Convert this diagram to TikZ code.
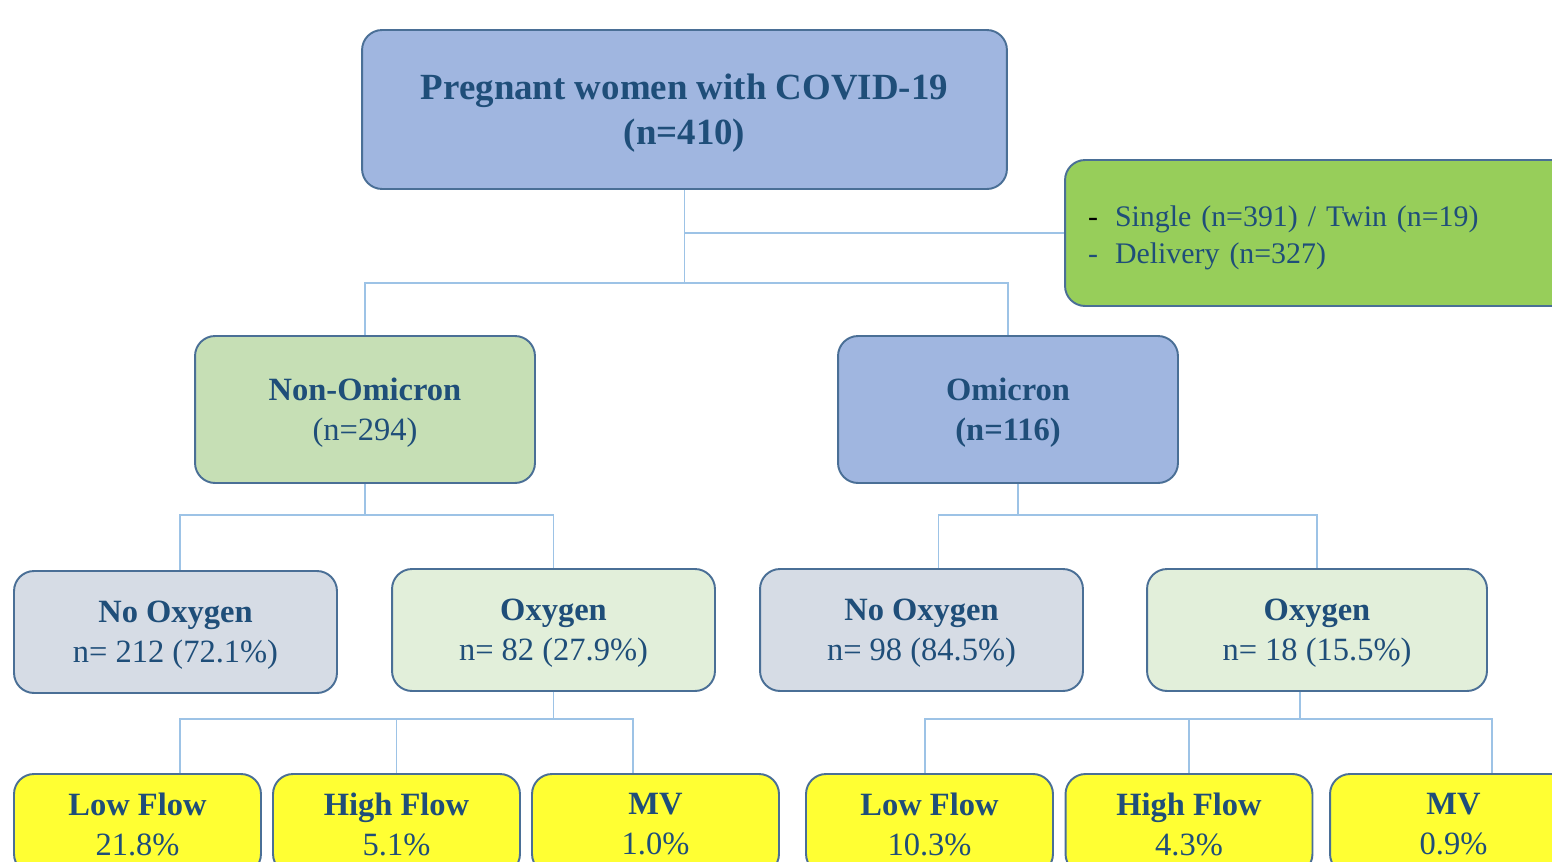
\documentclass[tikz,border=0pt]{standalone}
\usepackage{fontspec}
\setmainfont{Liberation Serif}
\usetikzlibrary{positioning}

\definecolor{boxline}{HTML}{4A6F96}
\definecolor{txtblue}{HTML}{1F4E79}
\definecolor{topfill}{HTML}{A0B6E0}
\definecolor{nonfill}{HTML}{C6DFB5}
\definecolor{nooxfill}{HTML}{D6DCE5}
\definecolor{oxfill}{HTML}{E2EFDA}
\definecolor{flowfill}{HTML}{FFFF33}
\definecolor{infofill}{HTML}{97CE5A}
\definecolor{linkcol}{HTML}{9DC3E6}

\begin{document}
\begin{tikzpicture}[x=0.02cm, y=-0.02cm]
	\tikzstyle{box} = [draw=boxline, line width=1.1pt, rounded corners=0.4cm, text=txtblue, align=center, inner sep=0pt, text depth=-7pt];
	\tikzstyle{group} = [box, minimum width=6.8cm, minimum height=2.94cm, font={\fontsize{18.5}{23}\selectfont}];
	\tikzstyle{oxbox} = [box, minimum width=6.46cm, minimum height=2.44cm, font={\fontsize{18.5}{23}\selectfont}];
	\tikzstyle{flowbox} = [box, fill=flowfill, minimum width=4.94cm, minimum height=2cm, text depth=0pt, font={\fontsize{18.5}{22.5}\selectfont}];
	\tikzstyle{link} = [draw=linkcol, line width=0.85pt];

	\useasboundingbox (0,0) rectangle (1552,862);
	\clip (0,0) rectangle (1552,862);

	% top level
	\node[box, fill=topfill, minimum width=12.9cm, minimum height=3.18cm, font={\fontsize{21}{25.5}\selectfont\bfseries}] (top) at (684.5,109.5) {Pregnant women with COVID-19\\(n=410)};
	\node[box, fill=infofill, minimum width=10.4cm, minimum height=2.92cm, inner xsep=0.46cm, text width=9.48cm, align=left, text depth=19pt, font={\fontsize{17}{21}\selectfont}] (info) at (1325,233)
		{\makebox[0.54cm][l]{\textcolor{black}{-}}Single (n=391) / Twin (n=19)\\\makebox[0.54cm][l]{-}Delivery (n=327)};

	% variants
	\node[group, fill=nonfill] (nonom) at (365,409.5) {\textbf{Non-Omicron}\\(n=294)};
	\node[group, fill=topfill, font={\fontsize{18.5}{23}\selectfont\bfseries}] (omi) at (1008,409.5) {Omicron\\(n=116)};

	% oxygen
	\node[oxbox, fill=nooxfill] (noox1) at (175.5,632) {\textbf{No Oxygen}\\n= 212 (72.1\%)};
	\node[oxbox, fill=oxfill] (ox1) at (553.5,630) {\textbf{Oxygen}\\n= 82 (27.9\%)};
	\node[oxbox, fill=nooxfill] (noox2) at (921.5,630) {\textbf{No Oxygen}\\n= 98 (84.5\%)};
	\node[oxbox, fill=oxfill, minimum width=6.8cm] (ox2) at (1317,630) {\textbf{Oxygen}\\n= 18 (15.5\%)};

	% support
	\node[flowbox] (low1) at (137.5,824) {\textbf{Low Flow}\\21.8\%};
	\node[flowbox] (high1) at (396.5,824) {\textbf{High Flow}\\5.1\%};
	\node[flowbox] (mv1) at (655.5,824) {\textbf{MV}\\1.0\%};
	\node[flowbox] (low2) at (929.5,824) {\textbf{Low Flow}\\10.3\%};
	\node[flowbox] (high2) at (1189,824) {\textbf{High Flow}\\4.3\%};
	\node[flowbox] (mv2) at (1453.5,824) {\textbf{MV}\\0.9\%};

	% connectors
	\coordinate (j0) at (684.5,283);
	\draw[link] (top.south) -- (j0);
	\draw[link] (top.south |- info.west) -- (info.west);
	\draw[link] (nonom.north) |- (j0) -| (omi.north);

	\draw[link] (nonom.south) -- ++(0,31) coordinate (j1);
	\draw[link] ([xshift=0.09cm]noox1.north) |- (j1) -| (ox1.north);
	\draw[link] ([xshift=0.2cm]omi.south) -- ++(0,31) coordinate (j2);
	\draw[link] ([xshift=0.34cm]noox2.north) |- (j2) -| (ox2.north);

	\draw[link] (ox1.south) -- ++(0,27) coordinate (j3);
	\draw[link] ([xshift=0.85cm]low1.north) |- (j3) -| ([xshift=-0.45cm]mv1.north);
	\draw[link] (high1.north) -- (high1.north |- j3);
	\draw[link] ([xshift=-0.34cm]ox2.south) -- ++(0,27) coordinate (j4);
	\draw[link] ([xshift=-0.09cm]low2.north) |- (j4) -| ([xshift=0.77cm]mv2.north);
	\draw[link] (high2.north) -- (high2.north |- j4);
\end{tikzpicture}
\end{document}
